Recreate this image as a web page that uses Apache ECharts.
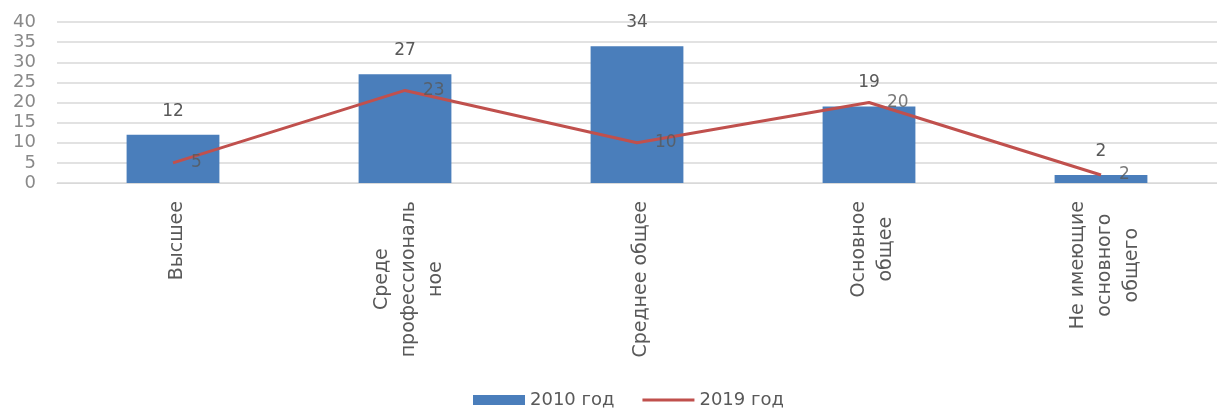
<!DOCTYPE html>
<html>
<head>
<meta charset="utf-8">
<script src="https://cdn.jsdelivr.net/npm/echarts@6/dist/echarts.min.js"></script>
<style>
html,body{margin:0;padding:0;background:#fff;}
#chart{width:1217px;height:416px;}
</style>
</head>
<body>
<div id="chart"></div>
<script>
const categories = ['Высшее', 'Среде\nпрофессиональ\nное', 'Среднее общее', 'Основное\nобщее', 'Не имеющие\nосновного\nобщего'];
const series2010 = [12, 27, 34, 19, 2];
const series2019 = [5, 23, 10, 20, 2];
const seriesNames = ['2010 год', '2019 год'];
const yTicks = {min: 0, max: 40, interval: 5};

const chart = echarts.init(document.getElementById('chart'));
const font = '"DejaVu Sans", "Liberation Sans", Arial, sans-serif';
chart.setOption({
  animation: false,
  backgroundColor: '#ffffff',
  textStyle: {fontFamily: font},
  grid: {left: 57, right: -9, top: 22, height: 161, containLabel: false},
  legend: {
    top: 386,
    left: 468,
    itemGap: 28,
    itemWidth: 52,
    itemHeight: 10,
    symbolKeepAspect: true,
    textStyle: {fontSize: 18, color: '#595959', fontFamily: font},
    data: [
      {name: seriesNames[0], icon: 'rect'},
      {name: seriesNames[1], icon: 'path://M0,0 L52,0 L52,3 L0,3 Z', itemStyle: {color: '#c0504d'}}
    ]
  },
  xAxis: {
    type: 'category',
    data: categories,
    axisLine: {show: true, lineStyle: {color: '#d9d9d9'}},
    axisTick: {show: false},
    axisLabel: {
      rotate: 90,
      interval: 0,
      margin: 18,
      color: '#595959',
      fontSize: 19,
      lineHeight: 27,
      padding: [8, 0, 0, 0],
      formatter: function (v) {
        return v.split('\n').map(function (s) { return '{c|' + s + '}'; }).join('\n');
      },
      rich: {c: {align: 'center', fontSize: 19, lineHeight: 27, color: '#595959', fontFamily: font}}
    }
  },
  yAxis: {
    type: 'value',
    min: yTicks.min,
    max: yTicks.max,
    interval: yTicks.interval,
    axisLine: {show: false},
    axisTick: {show: false},
    axisLabel: {color: '#898989', fontSize: 18, margin: 21},
    splitLine: {lineStyle: {color: '#d9d9d9', width: 1.5}}
  },
  series: [
    {
      name: seriesNames[0],
      type: 'bar',
      data: series2010,
      barWidth: '40%',
      itemStyle: {color: '#4a7ebb'},
      label: {show: true, position: 'top', distance: 15, color: '#595959', fontSize: 17}
    },
    {
      name: seriesNames[1],
      type: 'line',
      data: series2019,
      symbol: 'none',
      lineStyle: {color: '#c0504d', width: 3},
      itemStyle: {color: '#c0504d'}
    },
    {
      name: seriesNames[1] + ' labels',
      type: 'scatter',
      data: series2019,
      symbolSize: 0,
      itemStyle: {color: 'rgba(0,0,0,0)'},
      z: 5,
      label: {show: true, position: 'right', distance: 18, color: '#595959', fontSize: 17}
    }
  ]
});
</script>
</body>
</html>
